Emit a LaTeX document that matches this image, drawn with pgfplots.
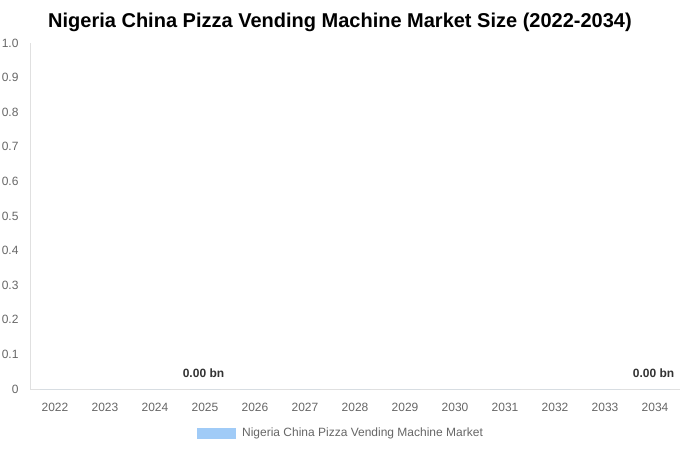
\documentclass[border=0pt]{standalone}
\usepackage{pgfplots}
\pgfplotsset{compat=1.18}
\usepackage{fontspec}
\setmainfont{Liberation Sans}
\definecolor{barblue}{HTML}{A0CBF7}
\definecolor{axgray}{HTML}{E0E0E0}
\definecolor{tickgray}{HTML}{666666}
\definecolor{lblgray}{HTML}{333333}
\begin{document}
\begin{tikzpicture}[x=1pt,y=1pt]
\useasboundingbox (0,0) rectangle (680,450);
\node[font=\fontsize{20}{24}\selectfont\bfseries] at (340,427.5) {Nigeria China Pizza Vending Machine Market Size (2022-2034)};
\begin{axis}[
  at={(30pt,61pt)}, anchor=south west,
  scale only axis, width=650pt, height=346pt,
  xmin=-0.5, xmax=12.5, ymin=0, ymax=1,
  axis x line*=bottom, axis y line*=left,
  axis line style={axgray},
  major tick length=0pt,
  xtick={0,...,12},
  xticklabels={2022,2023,2024,2025,2026,2027,2028,2029,2030,2031,2032,2033,2034},
  ytick={0,0.1,...,1.0},
  yticklabels={0,0.1,0.2,0.3,0.4,0.5,0.6,0.7,0.8,0.9,1.0},
  /pgf/number format/assume math mode=true,
  ticklabel style={font=\fontsize{12}{14}\selectfont, text=tickgray},
  xticklabel style={anchor=center, yshift=-18pt},
  yticklabel style={anchor=east, xshift=-8pt},
  legend style={at={(rel axis cs:0.5,0)}, anchor=center, yshift=-44pt, xshift=-14pt, draw=none, fill=none,
    font=\fontsize{12}{14}\selectfont, text=tickgray, legend cell align=left},
  legend image code/.code={\fill[#1] (0pt,-5.5pt) rectangle (39pt,5.5pt); \path (43pt,0pt);},
  clip=false,
]
\addplot[ybar, bar width=30pt, fill=barblue, draw=none] coordinates {
 (0,0) (1,0) (2,0) (3,0) (4,0) (5,0) (6,0) (7,0) (8,0) (9,0) (10,0) (11,0) (12,0)};
\addlegendentry{Nigeria China Pizza Vending Machine Market}
\addplot[draw=none, mark=none, forget plot,
  nodes near coords={0.00 bn},
  every node near coord/.append style={anchor=center, yshift=16pt, xshift=-1.5pt, font=\fontsize{12}{14}\selectfont\bfseries, text=lblgray}]
  coordinates {(3,0) (12,0)};
\end{axis}
\end{tikzpicture}
\end{document}
